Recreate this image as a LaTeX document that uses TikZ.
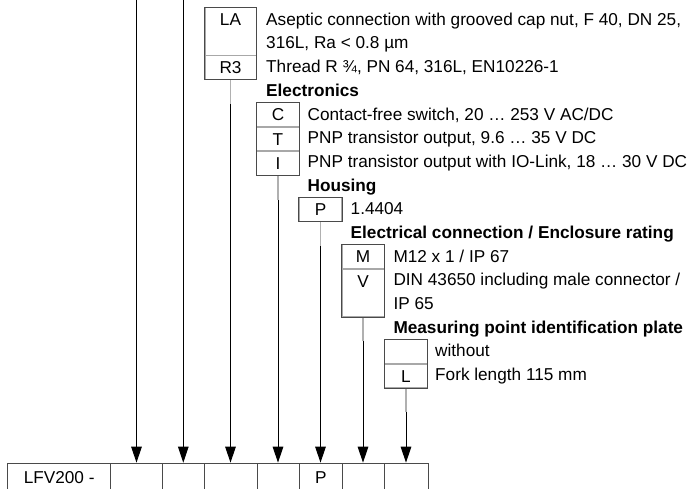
\documentclass[tikz,border=0pt]{standalone}
\usepackage{fontspec}
\setmainfont{Liberation Sans}
\usetikzlibrary{arrows.meta,fit}
\definecolor{boxgray}{HTML}{4A4A4A}
\definecolor{divgray}{HTML}{A8A8A8}
\definecolor{seggray}{HTML}{B0B0B0}
\newcommand{\rf}{\fontsize{17.2}{20}\selectfont}
\tikzset{
  code/.style={draw=divgray, line width=0.8pt, inner sep=0pt, text height=18pt, text depth=5.68pt, minimum width=43pt, font=\rf, align=center},
  grp/.style={draw=boxgray, line width=0.9pt, inner sep=0pt},
  desc/.style={inner sep=0pt, anchor=base west, font=\rf},
  head/.style={inner sep=0pt, anchor=base west, font=\rf\bfseries},
  cell/.style={draw=boxgray, line width=0.8pt, inner sep=0pt, anchor=north west, text height=20.8pt, text depth=9.2pt, font=\rf},
  arr/.style={line width=1pt, -{Triangle[length=16pt,width=10.5pt]}},
  seg/.style={draw=seggray, line width=1.1pt}
}
\begin{document}
\begin{tikzpicture}[x=1pt,y=-1pt]
\useasboundingbox (0,0) rectangle (697,489);
\clip (0,0) rectangle (697,489);
% bottom row of cells
\node[cell, minimum width=103pt] (c0) at (7.3,462.7) {LFV200 -};
\node[cell, minimum width=52pt] (c1) at (110.3,462.7) {};
\node[cell, minimum width=42pt] (c2) at (162.3,462.7) {};
\node[cell, minimum width=52.4pt] (c3) at (204.3,462.7) {};
\node[cell, minimum width=42.6pt] (c4) at (256.7,462.7) {};
\node[cell, minimum width=42.4pt] (c5) at (299.3,462.7) {P};
\node[cell, minimum width=42.6pt] (c6) at (341.7,462.7) {};
\node[cell, minimum width=43.4pt] (c7) at (384.3,462.7) {};
% group 1
\node[code, anchor=north, minimum width=51pt, text depth=29.36pt] (LA) at (230.5,7.3) {LA};
\node[code, anchor=north, minimum width=51pt] (R3) at (LA.south) {R3};
\node[grp, fit=(LA)(R3)] (g1) {};
\node[desc] (dLA1) at (266,25.3) {Aseptic connection with grooved cap nut, F 40, DN 25,};
\node[desc] (dLA2) at (266,48.98) {316L, Ra < 0.8 µm};
\node[desc] (dR3) at (266,72.66) {Thread R ¾, PN 64, 316L, EN10226-1};
\node[head] (hE) at (266,96.34) {Electronics};
% group 2
\node[code, anchor=north] (C) at (278,102.34) {C};
\node[code, anchor=north] (T) at (C.south) {T};
\node[code, anchor=north] (I) at (T.south) {I};
\node[grp, fit=(C)(I)] (g2) {};
\node[desc] (dC) at (307.5,120.02) {Contact-free switch, 20 … 253 V AC/DC};
\node[desc] (dT) at (307.5,143.7) {PNP transistor output, 9.6 … 35 V DC};
\node[desc] (dI) at (307.5,167.38) {PNP transistor output with IO-Link, 18 … 30 V DC};
\node[head] (hH) at (307.5,191.06) {Housing};
% group 3
\node[code, anchor=north, minimum width=42.7pt] (P) at (320.5,197.06) {P};
\node[grp, fit=(P)] (g3) {};
\node[desc] (dP) at (350.5,214.74) {1.4404};
\node[head] (hEl) at (350.5,238.42) {Electrical connection / Enclosure rating};
% group 4
\node[code, anchor=north, minimum width=42pt] (M) at (363,244.42) {M};
\node[code, anchor=north, minimum width=42pt, text depth=29.36pt] (V) at (M.south) {V};
\node[grp, fit=(M)(V)] (g4) {};
\node[desc] (dM) at (393.3,262.1) {M12 x 1 / IP 67};
\node[desc] (dV1) at (393.3,285.78) {DIN 43650 including male connector /};
\node[desc] (dV2) at (393.3,309.46) {IP 65};
\node[head] (hMe) at (393.3,333.14) {Measuring point identification plate};
% group 5
\node[code, anchor=north] (B) at (406,339.14) {};
\node[code, anchor=north] (L) at (B.south) {L};
\node[grp, fit=(B)(L)] (g5) {};
\node[desc] (dB) at (435,356.82) {without};
\node[desc] (dL) at (435,380.5) {Fork length 115 mm};
% free line ends at the top
\coordinate (t1) at (136.5,0);
\coordinate (t2) at (183.3,0);
% connectors
\draw[arr] (t1) -- (t1 |- c1.north);
\draw[arr] (t2) -- (t2 |- c2.north);
\draw[arr] (g1.south) -- (g1.south |- c3.north);
\draw[arr] (g2.south) -- (g2.south |- c4.north);
\draw[arr] (g3.south) -- (g3.south |- c5.north);
\draw[arr] (g4.south) -- (g4.south |- c6.north);
\draw[arr] (g5.south) -- (g5.south |- c7.north);
\draw[seg] (g1.south) -- ++(0,23.68);
\draw[seg] (g2.south) -- ++(0,23.68);
\draw[seg] (g3.south) -- ++(0,23.68);
\draw[seg] (g4.south) -- ++(0,23.68);
\draw[seg] (g5.south) -- ++(0,23.68);
\end{tikzpicture}
\end{document}
